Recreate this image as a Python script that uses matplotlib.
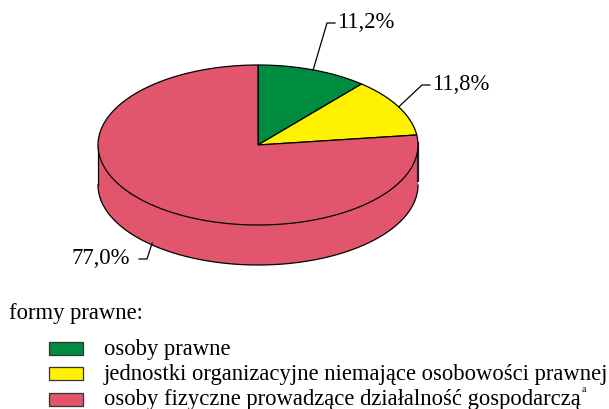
"""
3D pie chart of legal forms (formy prawne)
"""

import matplotlib
matplotlib.use('Agg')
import matplotlib.pyplot as plt
import numpy as np
from matplotlib.patches import Polygon, Rectangle

# data
labels = ['osoby prawne',
          'jednostki organizacyjne niemające osobowości prawnej',
          'osoby fizyczne prowadzące działalność gospodarczą']
shares = [11.2, 11.8, 77.0]
share_labels = ['11,2%', '11,8%', '77,0%']
colors = ['#008C40', '#FFF200', '#E1566C']

plt.rcParams['font.family'] = ['Liberation Serif', 'DejaVu Serif']

fig = plt.figure(figsize=(6.09, 4.09), dpi=100)
ax = fig.add_axes([0, 0, 1, 1])
ax.set_xlim(0, 609)
ax.set_ylim(409, 0)
ax.axis('off')

# pie geometry (pixels)
cx, cy = 258, 145
rx, ry = 160, 80
depth = 40


def pt(t, dy=0):
    t = np.radians(t)
    return np.column_stack([cx + rx * np.cos(t), cy - ry * np.sin(t) + dy])


# wedge angles, clockwise from 12 o'clock
frac = np.array(shares) / np.sum(shares)
ends = 90 - 360 * np.cumsum(frac)
starts = np.concatenate([[90], ends[:-1]])

# side (visible front rim: angles -180..0)
for s, e, c in zip(starts, ends, colors):
    lo = max(e, -180)
    hi = min(s, 0)
    if lo >= hi:
        continue
    t = np.linspace(hi, lo, 120)
    top = pt(t)
    bot = pt(t[::-1], depth)
    ax.add_patch(Polygon(np.vstack([top, bot]), closed=True, facecolor=c,
                         edgecolor='none', zorder=1))
# side outline
t = np.linspace(-180, 0, 200)
ax.plot(*pt(t, depth).T, color='black', lw=0.9, zorder=2)
p = pt([-180])[0]
ax.plot([p[0], p[0]], [p[1], p[1] + depth], color='black', lw=0.9, zorder=2)
p = pt([0])[0]
ax.plot([p[0], p[0]], [p[1] - 3, p[1] + depth - 3], color='#202020',
        lw=1.6, zorder=2, solid_capstyle='butt')

# top surface
for s, e, c in zip(starts, ends, colors):
    t = np.linspace(s, e, 150)
    poly = np.vstack([[[cx, cy]], pt(t)])
    ax.add_patch(Polygon(poly, closed=True, facecolor=c, edgecolor='black',
                         lw=0.9, zorder=3))

# labels with leader lines
mids = (starts + ends) / 2
text_pos = [(337, 23), (432, 85), (130, 259)]
for i, (m, lab, tp) in enumerate(zip(mids, share_labels, text_pos)):
    if np.sin(np.radians(m)) < 0:
        a = pt([m], depth)[0]
        a[1] -= 2
    else:
        a = pt([m])[0]
    if tp[0] > a[0]:
        elbow = (tp[0] - 10, tp[1])
        ax.plot([a[0], elbow[0], tp[0] - 2], [a[1], elbow[1], tp[1]],
                color='black', lw=0.9, zorder=4)
        ax.text(tp[0], tp[1], lab, fontsize=16.4, ha='left', va='center')
    else:
        elbow = (tp[0] + 17, tp[1])
        ax.plot([a[0], elbow[0], tp[0] + 9], [a[1], elbow[1], tp[1]],
                color='black', lw=0.9, zorder=4)
        ax.text(tp[0], tp[1], lab, fontsize=16.4, ha='right', va='center')

# legend
ax.text(9, 313, 'formy prawne:', fontsize=16.3, ha='left', va='center')
for i, (lab, c) in enumerate(zip(labels, colors)):
    y = 348 + i * 25.5
    ax.add_patch(Rectangle((49, y - 6.5), 34, 13, facecolor=c,
                           edgecolor='#333333', lw=0.9))
    ax.text(104, y + 1, lab, fontsize=16.3, ha='left', va='center')
ax.text(582, 390, 'a', fontsize=7, ha='left', va='center')

plt.savefig('out.png', dpi=100)
plt.close(fig)
